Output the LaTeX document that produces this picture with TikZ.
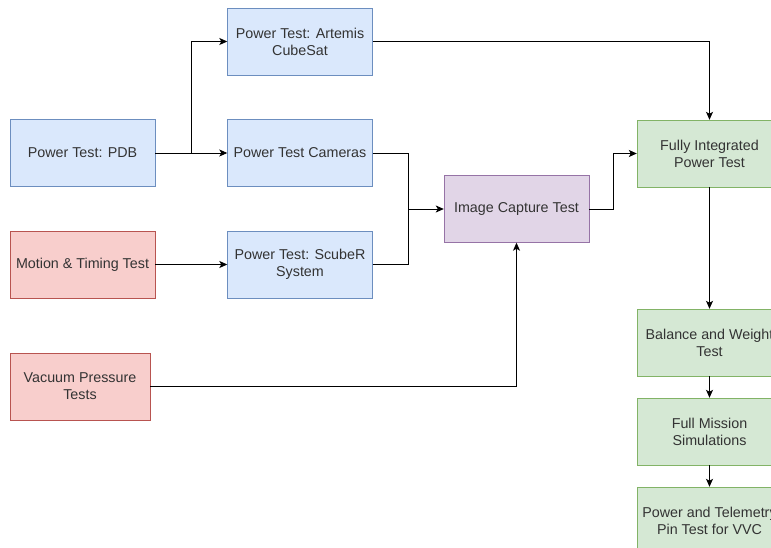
\documentclass[tikz,border=0pt]{standalone}
\usepackage{fontspec}
\setmainfont{Liberation Sans}
\usepackage{xcolor}
\usepackage{tikz}
\usetikzlibrary{arrows.meta}

\definecolor{bluefill}{HTML}{DAE8FC}
\definecolor{blueline}{HTML}{6C8EBF}
\definecolor{redfill}{HTML}{F8CECC}
\definecolor{redline}{HTML}{B85450}
\definecolor{greenfill}{HTML}{D5E8D4}
\definecolor{greenline}{HTML}{82B366}
\definecolor{purplefill}{HTML}{E1D5E7}
\definecolor{purpleline}{HTML}{9673A6}
\definecolor{txt}{HTML}{333333}

\tikzset{
  testbox/.style={draw, rectangle, minimum width=145pt, minimum height=67pt,
    align=center, inner sep=0pt, text=txt, font=\fontsize{14.3}{17}\selectfont},
  bluebox/.style={testbox, fill=bluefill, draw=blueline},
  redbox/.style={testbox, fill=redfill, draw=redline},
  greenbox/.style={testbox, fill=greenfill, draw=greenline},
  purplebox/.style={testbox, fill=purplefill, draw=purpleline},
  link/.style={draw=black, line width=0.9pt, -{Stealth[length=8pt,width=7pt,inset=2pt]}},
}

\begin{document}
\begin{tikzpicture}[x=1pt,y=-1pt]
\useasboundingbox (0,0) rectangle (771,548);
\clip (0,0) rectangle (771,548);
% left column
\node[bluebox] (pdb) at (82.5,153) {Power Test: PDB};
\node[redbox] (motion) at (82.5,264.5) {Motion \& Timing Test};
\node[redbox, minimum width=140pt] (vacuum) at (80,386.5) {Vacuum Pressure\\Tests};
% power tests
\node[bluebox] (artemis) at (300,41.5) {Power Test: Artemis\\CubeSat};
\node[bluebox] (cameras) at (300,153) {Power Test Cameras};
\node[bluebox] (scuber) at (300,264.5) {Power Test: ScubeR\\System};
\node[purplebox] (capture) at (516.5,209) {Image Capture Test};
% right column (runs off the edge)
\node[greenbox] (full) at (709.5,153.5) {Fully Integrated\\Power Test};
\node[greenbox] (balance) at (709.5,342.5) {Balance and Weight\\Test};
\node[greenbox] (mission) at (709.5,431.5) {Full Mission\\Simulations};
\node[greenbox] (pins) at (709.5,520.5) {Power and Telemetry\\Pin Test for VVC};

\coordinate (j1) at (191,153);
\coordinate (j2) at (408,209);
\coordinate (j3) at (613,209);

\draw[link] (pdb) -- (cameras);
\draw[link] (j1) |- (artemis);
\draw[link] (motion) -- (scuber);
\draw[line width=0.9pt] (cameras.east) -| (j2);
\draw[line width=0.9pt] (scuber.east) -| (j2);
\draw[link] (j2) -- (capture);
\draw[link] (vacuum.east) -| (capture.south);
\draw[link] (capture.east) -- (j3) |- (full.west);
\draw[link] (artemis.east) -| (full.north);
\draw[link] (full) -- (balance);
\draw[link] (balance) -- (mission);
\draw[link] (mission) -- (pins);
\end{tikzpicture}
\end{document}
